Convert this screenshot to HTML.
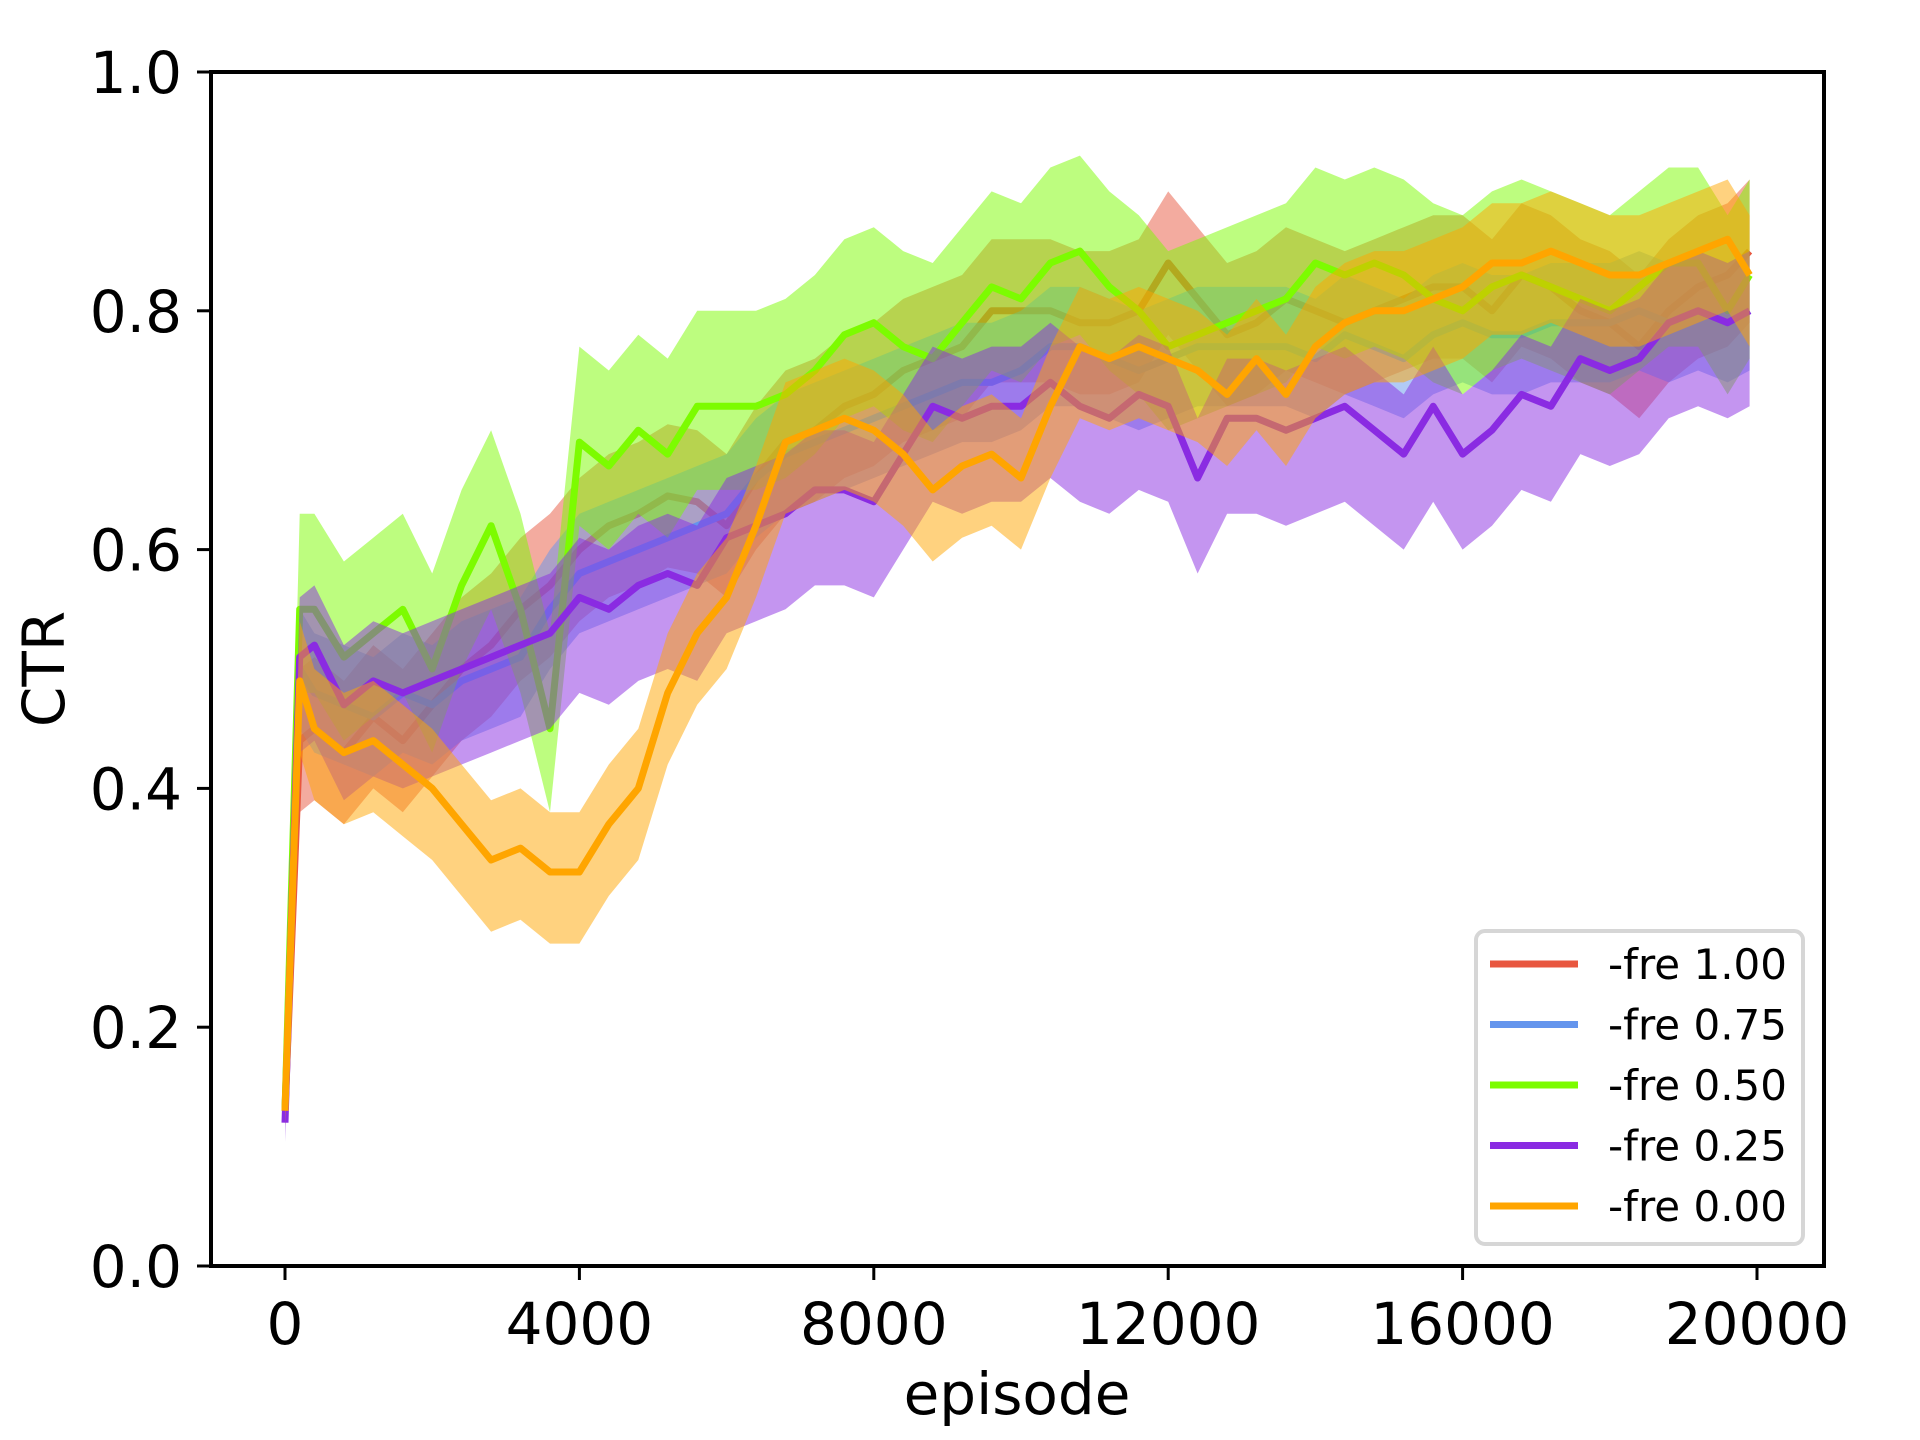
<!DOCTYPE html>
<html><head><meta charset="utf-8"><style>
html,body{margin:0;padding:0;background:#fff;}
svg{display:block;font-family:"DejaVu Sans","Liberation Sans",sans-serif;}
</style></head><body>
<svg id="chart" width="1920" height="1440" viewBox="0 0 1920 1440" xmlns="http://www.w3.org/2000/svg">
<rect width="1920" height="1440" fill="#fff"/>
<g id="plot"></g>
<rect x="211" y="72" width="1613" height="1194" fill="none" stroke="#000" stroke-width="4"/>
<g id="ticks"></g>
<text x="1017" y="1414" font-size="58" text-anchor="middle">episode</text>
<text x="0" y="0" font-size="58" text-anchor="middle" transform="translate(64,669) rotate(-90)">CTR</text>
<g>
<rect x="1476" y="931" width="327" height="313" rx="9" fill="#fff" fill-opacity="0.8" stroke="#d6d6d6" stroke-width="4"/>
<g id="legend-items"></g>
</g>
</svg>
<script>
const episodes = [0,200,400,800,1200,1600,2000,2400,2800,3200,3600,4000,4400,4800,5200,5600,6000,6400,6800,7200,7600,8000,8400,8800,9200,9600,10000,10400,10800,11200,11600,12000,12400,12800,13200,13600,14000,14400,14800,15200,15600,16000,16400,16800,17200,17600,18000,18400,18800,19200,19600,19900];
const labels = ["-fre 1.00","-fre 0.75","-fre 0.50","-fre 0.25","-fre 0.00"];
const colors = ["#e8573f","#6495ed","#7cfc00","#8a2be2","#ffa500"];
const fre100 = [0.13,0.44,0.45,0.43,0.46,0.44,0.47,0.50,0.52,0.55,0.57,0.60,0.62,0.63,0.645,0.64,0.62,0.66,0.69,0.70,0.72,0.73,0.75,0.76,0.77,0.80,0.80,0.80,0.79,0.79,0.80,0.84,0.81,0.78,0.79,0.81,0.80,0.79,0.80,0.81,0.82,0.82,0.80,0.83,0.82,0.80,0.79,0.77,0.80,0.82,0.83,0.85];
const fre075 = [0.13,0.50,0.48,0.47,0.46,0.48,0.47,0.49,0.50,0.51,0.55,0.58,0.59,0.60,0.61,0.62,0.63,0.66,0.68,0.69,0.70,0.71,0.72,0.73,0.74,0.74,0.75,0.77,0.77,0.76,0.75,0.76,0.77,0.77,0.77,0.77,0.76,0.78,0.77,0.76,0.78,0.79,0.78,0.78,0.79,0.79,0.79,0.80,0.79,0.80,0.79,0.80];
const fre050 = [0.13,0.55,0.55,0.51,0.53,0.55,0.50,0.57,0.62,0.55,0.45,0.69,0.67,0.70,0.68,0.72,0.72,0.72,0.73,0.75,0.78,0.79,0.77,0.76,0.79,0.82,0.81,0.84,0.85,0.82,0.80,0.77,0.78,0.79,0.80,0.81,0.84,0.83,0.84,0.83,0.81,0.80,0.82,0.83,0.82,0.81,0.80,0.82,0.84,0.84,0.80,0.83];
const fre025 = [0.12,0.51,0.52,0.47,0.49,0.48,0.49,0.50,0.51,0.52,0.53,0.56,0.55,0.57,0.58,0.57,0.61,0.62,0.63,0.65,0.65,0.64,0.68,0.72,0.71,0.72,0.72,0.74,0.72,0.71,0.73,0.72,0.66,0.71,0.71,0.70,0.71,0.72,0.70,0.68,0.72,0.68,0.70,0.73,0.72,0.76,0.75,0.76,0.79,0.80,0.79,0.80];
const fre000 = [0.13,0.49,0.45,0.43,0.44,0.42,0.40,0.37,0.34,0.35,0.33,0.33,0.37,0.40,0.48,0.53,0.56,0.62,0.69,0.70,0.71,0.70,0.68,0.65,0.67,0.68,0.66,0.72,0.77,0.76,0.77,0.76,0.75,0.73,0.76,0.73,0.77,0.79,0.80,0.80,0.81,0.82,0.84,0.84,0.85,0.84,0.83,0.83,0.84,0.85,0.86,0.83];
const spreadLo = [0.06,0.05,0.07,0.08,0.06];
const spreadHi = [0.06,0.05,0.08,0.05,0.05];
const yTicks = [0,0.2,0.4,0.6,0.8,1.0];
const yTickLabels = ["0.0","0.2","0.4","0.6","0.8","1.0"];
const xTicks = [0,4000,8000,12000,16000,20000];
const xTickLabels = ["0","4000","8000","12000","16000","20000"];

const series = [fre100,fre075,fre050,fre025,fre000];
const X0=285, X1=1757, YB=1266, YT=72;
function xs(v){return X0+(X1-X0)*v/20000;}
function ys(v){return YB-(YB-YT)*v;}
const NS="http://www.w3.org/2000/svg";
const plot=document.getElementById('plot');
series.forEach((s,i)=>{
  let up=[],lo=[];
  s.forEach((v,j)=>{up.push(xs(episodes[j]).toFixed(1)+','+ys(v+spreadHi[i]*(j?1:0.2)).toFixed(1));
    lo.push(xs(episodes[j]).toFixed(1)+','+ys(v-spreadLo[i]*(j?1:0.2)).toFixed(1));});
  const band=document.createElementNS(NS,'polygon');
  
  
  band.setAttribute('points',up.concat(lo.reverse()).join(' '));
  band.setAttribute('fill',colors[i]);band.setAttribute('fill-opacity','0.5');
  plot.appendChild(band);
  const line=document.createElementNS(NS,'polyline');
  
  
  line.setAttribute('points',s.map((v,j)=>xs(episodes[j]).toFixed(1)+','+ys(v).toFixed(1)).join(' '));
  line.setAttribute('fill','none');line.setAttribute('stroke',colors[i]);
  line.setAttribute('stroke-width','7');line.setAttribute('stroke-linejoin','round');
  plot.appendChild(line);
});
const ticks=document.getElementById('ticks');
yTicks.forEach((v,i)=>{
  const l=document.createElementNS(NS,'line');
  
  
  l.setAttribute('x1',197);l.setAttribute('x2',211);l.setAttribute('y1',ys(v));l.setAttribute('y2',ys(v));
  l.setAttribute('stroke','#000');l.setAttribute('stroke-width','3');ticks.appendChild(l);
  const t=document.createElementNS(NS,'text');
  
  
  t.setAttribute('x',182);t.setAttribute('y',ys(v)+21);t.setAttribute('font-size','58');t.setAttribute('text-anchor','end');
  t.textContent=yTickLabels[i];ticks.appendChild(t);
});
xTicks.forEach((v,i)=>{
  const l=document.createElementNS(NS,'line');
  
  
  l.setAttribute('x1',xs(v));l.setAttribute('x2',xs(v));l.setAttribute('y1',1266);l.setAttribute('y2',1280);
  l.setAttribute('stroke','#000');l.setAttribute('stroke-width','3');ticks.appendChild(l);
  const t=document.createElementNS(NS,'text');
  
  
  t.setAttribute('x',xs(v));t.setAttribute('y',1344);t.setAttribute('font-size','58');t.setAttribute('text-anchor','middle');
  t.textContent=xTickLabels[i];ticks.appendChild(t);
});
const leg=document.getElementById('legend-items');
labels.forEach((lab,i)=>{
  const y=964+i*60.5;
  const l=document.createElementNS(NS,'line');
  
  
  l.setAttribute('x1',1490);l.setAttribute('x2',1578);l.setAttribute('y1',y);l.setAttribute('y2',y);
  l.setAttribute('stroke',colors[i]);l.setAttribute('stroke-width','7');leg.appendChild(l);
  const t=document.createElementNS(NS,'text');
  
  
  t.setAttribute('x',1608);t.setAttribute('y',y+15);t.setAttribute('font-size','42');
  t.textContent=lab;leg.appendChild(t);
});
</script>
</body></html>
